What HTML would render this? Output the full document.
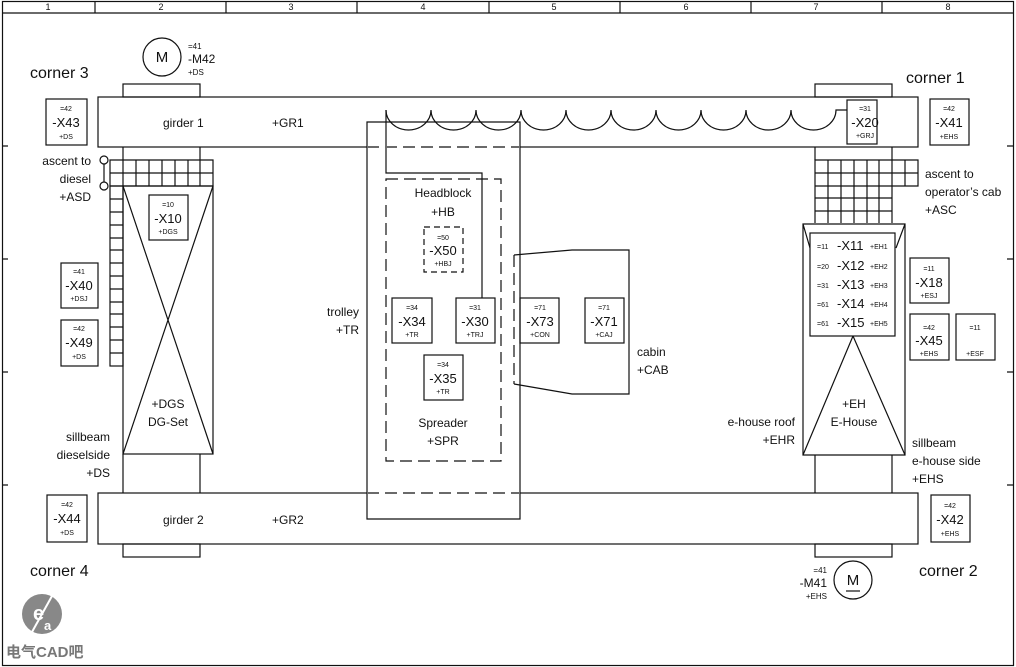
<!DOCTYPE html>
<html><head><meta charset="utf-8"><style>
html,body{margin:0;padding:0;background:#fff;}
svg{display:block;font-family:"Liberation Sans","Noto Sans CJK SC",sans-serif;}
</style></head><body>
<svg width="1016" height="667" viewBox="0 0 1016 667" xmlns="http://www.w3.org/2000/svg">
<g fill="none" stroke="#111" stroke-width="1.2">
<rect x="2.5" y="1.5" width="1011" height="664"/>
<line x1="2" y1="13" x2="1013" y2="13"/>
<path d="M95 1V13M226 1V13M357 1V13M489 1V13M620 1V13M751 1V13M882 1V13"/>
<path d="M2 146H8M2 259H8M2 372H8M2 485H8M1013 146H1007M1013 259H1007M1013 372H1007M1013 485H1007"/>
<!-- girders -->
<rect x="98" y="97" width="820" height="50"/>
<rect x="98" y="493" width="820" height="51"/>
<!-- left column -->
<rect x="123" y="84" width="77" height="13"/>
<path d="M123 147V160M200 147V160"/>
<path d="M110 160H213V186H110ZM110 173H213"/>
<path d="M123 160V186M136 160V186M149 160V186M162 160V186M175 160V186M188 160V186M200 160V186"/>
<rect x="110" y="186" width="13" height="180"/>
<path d="M110 199H123M110 212H123M110 225H123M110 238H123M110 250H123M110 263H123M110 276H123M110 289H123M110 302H123M110 314H123M110 327H123M110 340H123M110 353H123"/>
<rect x="123" y="186" width="90" height="268"/>
<path d="M123 186L213 454M213 186L123 454"/>
<path d="M123 454V493M200 454V493"/>
<rect x="123" y="544" width="77" height="13"/>
<circle cx="104" cy="160" r="4" fill="#fff"/><circle cx="104" cy="186" r="4" fill="#fff"/>
<path d="M104 164V182"/>
<!-- right column -->
<rect x="815" y="84" width="77" height="13"/>
<path d="M815 147V160M892 147V160"/>
<path d="M815 160H918V186H815ZM815 173H918M815 198H892M815 211H892M815 160V223M892 160V223"/>
<path d="M828 160V223M841 160V223M854 160V223M867 160V223M879 160V223M905 160V186"/>
<path d="M803 224H905V455H803ZM803 224L810 248M905 224L896 248"/>
<rect x="810" y="233" width="85" height="103" fill="#fff"/>
<path d="M853 336L803 455M853 336L905 455"/>
<path d="M815 455V493M892 455V493"/>
<rect x="815" y="544" width="77" height="13"/>
<!-- arcs -->
<path d="M386 110 A22.5 20 0 0 0 431 110 A22.5 20 0 0 0 476 110 A22.5 20 0 0 0 521 110 A22.5 20 0 0 0 566 110 A22.5 20 0 0 0 611 110 A22.5 20 0 0 0 656 110 A22.5 20 0 0 0 701 110 A22.5 20 0 0 0 746 110 A22.5 20 0 0 0 791 110 A22.5 20 0 0 0 836 110 L847 110"/>
<!-- trolley -->
<path d="M367 147V122H520V519H367V493M367 147V493"/>
<path d="M386 110V173H482V298"/>
<line x1="367" y1="147" x2="520" y2="147" stroke="#fff" stroke-width="2"/>
<line x1="367" y1="147" x2="520" y2="147" stroke-dasharray="12,6"/>
<line x1="367" y1="493" x2="520" y2="493" stroke="#fff" stroke-width="2"/>
<line x1="367" y1="493" x2="520" y2="493" stroke-dasharray="12,6"/>
<rect x="386" y="179" width="115" height="282" stroke-dasharray="12,6"/>
<rect x="424" y="227" width="39" height="45" stroke-dasharray="6,4"/>
<rect x="392" y="298" width="40" height="45"/>
<rect x="456" y="298" width="39" height="45"/>
<rect x="520" y="298" width="39" height="45"/>
<rect x="585" y="298" width="39" height="45"/>
<rect x="424" y="355" width="39" height="45"/>
<path d="M514 255L572 250H629V394H572L514 384"/>
<path d="M514 255V384" stroke-dasharray="12,6"/>
<!-- side boxes -->
<rect x="46" y="99" width="41" height="46"/>
<rect x="61" y="263" width="37" height="45"/>
<rect x="61" y="320" width="37" height="46"/>
<rect x="47" y="495" width="40" height="47"/>
<rect x="149" y="195" width="39" height="45"/>
<rect x="847" y="100" width="30" height="44"/>
<rect x="930" y="99" width="39" height="46"/>
<rect x="910" y="258" width="39" height="45"/>
<rect x="910" y="314" width="39" height="46"/>
<rect x="956" y="314" width="39" height="46"/>
<rect x="931" y="495" width="39" height="47"/>
<circle cx="162" cy="57" r="19"/>
<circle cx="853" cy="580" r="19"/>
<path d="M846 591H860"/>
</g>
<g fill="#111" font-size="12">
<g font-size="9" text-anchor="middle">
<text x="48" y="10">1</text><text x="161" y="10">2</text><text x="291" y="10">3</text><text x="423" y="10">4</text><text x="554" y="10">5</text><text x="686" y="10">6</text><text x="816" y="10">7</text><text x="948" y="10">8</text>
</g>
<g font-size="16"><text x="30" y="78">corner 3</text><text x="906" y="83">corner 1</text><text x="30" y="576">corner 4</text><text x="919" y="576">corner 2</text></g>
<text x="162" y="62" font-size="15" text-anchor="middle">M</text>
<text x="853" y="585" font-size="15" text-anchor="middle">M</text>
<text x="188" y="49" font-size="8">=41</text><text x="188" y="63" font-size="12">-M42</text><text x="188" y="75" font-size="8">+DS</text>
<g text-anchor="end"><text x="827" y="573" font-size="8">=41</text><text x="827" y="587">-M41</text><text x="827" y="599" font-size="8">+EHS</text></g>
<text x="163" y="127">girder 1</text><text x="272" y="127">+GR1</text>
<text x="163" y="524">girder 2</text><text x="272" y="524">+GR2</text>
<g text-anchor="end">
<text x="91" y="165">ascent to</text><text x="91" y="183">diesel</text><text x="91" y="201">+ASD</text>
<text x="110" y="441">sillbeam</text><text x="110" y="459">dieselside</text><text x="110" y="477">+DS</text>
<text x="359" y="316">trolley</text><text x="359" y="334">+TR</text>
<text x="795" y="426">e-house roof</text><text x="795" y="444">+EHR</text>
</g>
<text x="925" y="178">ascent to</text><text x="925" y="196">operator’s cab</text><text x="925" y="214">+ASC</text>
<text x="912" y="447">sillbeam</text><text x="912" y="465">e-house side</text><text x="912" y="483">+EHS</text>
<text x="637" y="356">cabin</text><text x="637" y="374">+CAB</text>
<g text-anchor="middle">
<text x="443" y="197">Headblock</text><text x="443" y="216">+HB</text>
<text x="443" y="427">Spreader</text><text x="443" y="445">+SPR</text>
<text x="168" y="408">+DGS</text><text x="168" y="426">DG-Set</text>
<text x="854" y="408">+EH</text><text x="854" y="426">E-House</text>
</g>
<g text-anchor="middle">
<g font-size="7"><text x="66" y="111">=42</text><text x="66" y="139">+DS</text></g><text x="66" y="127" font-size="13">-X43</text>
<g font-size="7"><text x="79" y="274">=41</text><text x="79" y="301">+DSJ</text></g><text x="79" y="290" font-size="13">-X40</text>
<g font-size="7"><text x="79" y="331">=42</text><text x="79" y="359">+DS</text></g><text x="79" y="347" font-size="13">-X49</text>
<g font-size="7"><text x="67" y="507">=42</text><text x="67" y="535">+DS</text></g><text x="67" y="523" font-size="13">-X44</text>
<g font-size="7"><text x="168" y="207">=10</text><text x="168" y="234">+DGS</text></g><text x="168" y="223" font-size="13">-X10</text>
<g font-size="7"><text x="865" y="111">=31</text><text x="865" y="138">+GRJ</text></g><text x="865" y="127" font-size="13">-X20</text>
<g font-size="7"><text x="949" y="111">=42</text><text x="949" y="139">+EHS</text></g><text x="949" y="127" font-size="13">-X41</text>
<g font-size="7"><text x="929" y="271">=11</text><text x="929" y="298">+ESJ</text></g><text x="929" y="287" font-size="13">-X18</text>
<g font-size="7"><text x="929" y="330">=42</text><text x="929" y="356">+EHS</text></g><text x="929" y="345" font-size="13">-X45</text>
<g font-size="7"><text x="975" y="330">=11</text><text x="975" y="356">+ESF</text></g>
<g font-size="7"><text x="950" y="508">=42</text><text x="950" y="536">+EHS</text></g><text x="950" y="524" font-size="13">-X42</text>
<g font-size="7"><text x="443" y="240">=50</text><text x="443" y="266">+HBJ</text></g><text x="443" y="255" font-size="13">-X50</text>
<g font-size="7"><text x="412" y="310">=34</text><text x="412" y="337">+TR</text></g><text x="412" y="326" font-size="13">-X34</text>
<g font-size="7"><text x="475" y="310">=31</text><text x="475" y="337">+TRJ</text></g><text x="475" y="326" font-size="13">-X30</text>
<g font-size="7"><text x="540" y="310">=71</text><text x="540" y="337">+CON</text></g><text x="540" y="326" font-size="13">-X73</text>
<g font-size="7"><text x="604" y="310">=71</text><text x="604" y="337">+CAJ</text></g><text x="604" y="326" font-size="13">-X71</text>
<g font-size="7"><text x="443" y="367">=34</text><text x="443" y="394">+TR</text></g><text x="443" y="383" font-size="13">-X35</text>
</g>
<g font-size="7"><text x="817" y="249">=11</text><text x="817" y="269">=20</text><text x="817" y="288">=31</text><text x="817" y="307">=61</text><text x="817" y="326">=61</text>
<text x="870" y="249">+EH1</text><text x="870" y="269">+EH2</text><text x="870" y="288">+EH3</text><text x="870" y="307">+EH4</text><text x="870" y="326">+EH5</text></g>
<g font-size="13"><text x="837" y="250">-X11</text><text x="837" y="270">-X12</text><text x="837" y="289">-X13</text><text x="837" y="308">-X14</text><text x="837" y="327">-X15</text></g>
</g>
<circle cx="42" cy="614" r="20" fill="#888"/>
<text x="33" y="620" font-size="20" fill="#fff" font-weight="bold" font-family="Liberation Sans,sans-serif">e</text>
<text x="44" y="630" font-size="13" fill="#fff" font-weight="bold">a</text>
<path d="M52 596L32 632" stroke="#fff" stroke-width="2"/>
<text x="6" y="657" font-size="15" fill="#777" font-weight="bold" font-family="Liberation Sans,Noto Sans CJK SC,sans-serif">电气CAD吧</text>
</svg>
</body></html>
